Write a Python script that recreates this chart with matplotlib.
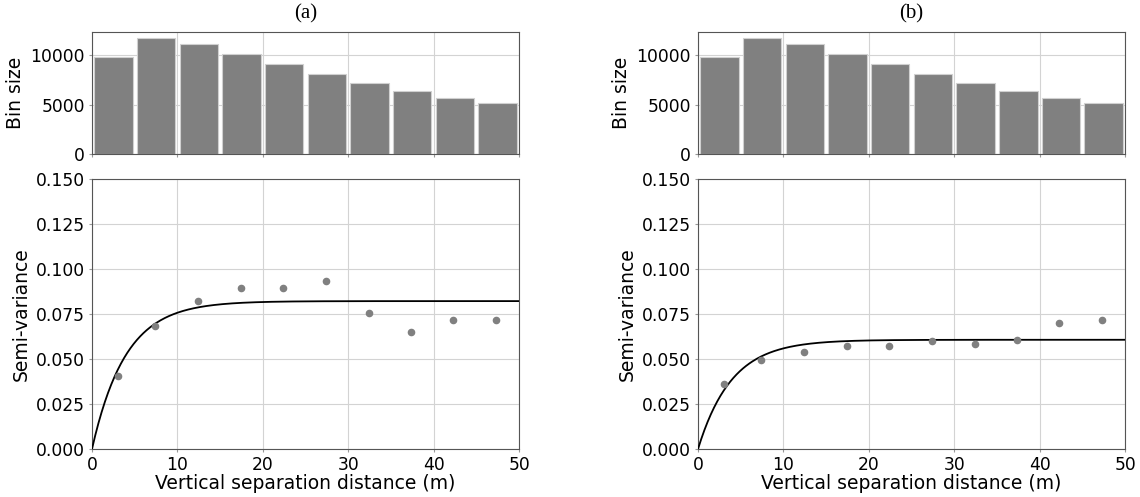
import numpy as np
import matplotlib
matplotlib.use("Agg")
import matplotlib.pyplot as plt

# lag bins (m) and number of pairs per bin
bin_edges = [0, 5, 10, 15, 20, 25, 30, 35, 40, 45, 50]
bin_counts = [9860, 11750, 11080, 10100, 9120, 8070, 7200, 6420, 5680, 5170]

# experimental semi-variance at bin centres
lag_a = [3.0, 7.4, 12.4, 17.4, 22.4, 27.4, 32.4, 37.3, 42.3, 47.3]
gamma_a = [0.0406, 0.0684, 0.0824, 0.0894, 0.0894, 0.0933, 0.0755, 0.0648, 0.0717, 0.0719]
lag_b = [3.0, 7.4, 12.4, 17.4, 22.4, 27.4, 32.4, 37.3, 42.3, 47.3]
gamma_b = [0.0360, 0.0494, 0.0540, 0.0574, 0.0574, 0.0598, 0.0585, 0.0606, 0.0702, 0.0716]

# fitted exponential models: (sill, effective range)
model_a = (0.0822, 11.8)
model_b = (0.0607, 11.8)

panels = [("(a)", lag_a, gamma_a, model_a, 0.0807),
          ("(b)", lag_b, gamma_b, model_b, 0.6123)]

TICK_FS = 12.3
LABEL_FS = 13.5
fig = plt.figure(figsize=(11.4, 4.97), dpi=100)


def exp_model(h, sill, rng):
    return sill * (1 - np.exp(-3 * h / rng))


for tag, lag, gamma, (sill, rng), left in panels:
    width = 0.3746
    ax_h = fig.add_axes([left, 0.690, width, 0.2455])
    ax_v = fig.add_axes([left, 0.0966, width, 0.543], sharex=ax_h)

    centres = [(a + b) / 2 for a, b in zip(bin_edges[:-1], bin_edges[1:])]
    ax_h.bar(centres, bin_counts, width=4.5, color="#808080",
             edgecolor="#d0d0d0", linewidth=0.8, zorder=2)
    ax_h.set_ylabel("Bin size", fontsize=LABEL_FS)
    ax_h.grid(True, color="#d3d3d3", lw=0.8, zorder=0)
    ax_h.set_axisbelow(True)
    ax_h.tick_params(labelbottom=False)
    ax_h.set_yticks([0, 5000, 10000])

    h = np.linspace(0, 50, 400)
    ax_v.plot(h, exp_model(h, sill, rng), color="black", lw=1.3, zorder=3)
    ax_v.scatter(lag, gamma, s=20, color="#808080", zorder=4)
    ax_v.set_xlim(0, 50)
    ax_v.set_ylim(0, 0.15)
    ax_v.set_xticks([0, 10, 20, 30, 40, 50])
    ax_v.set_yticks([0, 0.025, 0.05, 0.075, 0.1, 0.125, 0.15])
    ax_v.set_yticklabels(["0.000", "0.025", "0.050", "0.075", "0.100", "0.125", "0.150"])
    ax_v.set_xlabel("Vertical separation distance (m)", fontsize=LABEL_FS, labelpad=0)
    ax_v.set_ylabel("Semi-variance", fontsize=LABEL_FS)
    ax_v.grid(True, color="#d3d3d3", lw=0.8, zorder=0)
    ax_v.set_axisbelow(True)

    for ax in (ax_h, ax_v):
        ax.tick_params(length=2.5, color="#999999", labelsize=TICK_FS, pad=2.5)
        for sp in ax.spines.values():
            sp.set_color("#555555")

    fig.text(left + width / 2, 0.972, tag, ha="center", va="center",
             family="Liberation Serif", fontsize=15)

fig.savefig("out.png", dpi=100)
